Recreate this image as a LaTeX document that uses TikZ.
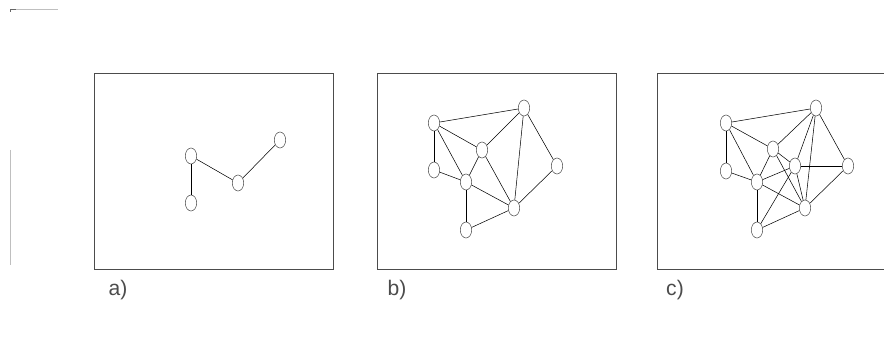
\documentclass[tikz,border=0pt]{standalone}
\usepackage{fontspec}
\setmainfont{Liberation Sans}
\usepackage{tikz}
\usetikzlibrary{shapes.geometric}
\tikzset{
  panel/.style={draw=black!70,line width=0.7pt},
  vx/.style={ellipse,draw=black!70,line width=0.45pt,fill=white,
    minimum width=0.34cm,minimum height=0.48cm,inner sep=0pt},
  lnk/.style={black,line width=0.45pt},
  plbl/.style={font=\fontsize{18}{20}\selectfont,text=black!70,inner sep=0pt},
  stray/.style={black!25,line width=0.5pt},
}
\begin{document}
\begin{tikzpicture}[x=0.03cm,y=-0.03cm]
  \useasboundingbox (0,0) rectangle (884,344);
  \clip (0,0) rectangle (884,344);
  % stray marks at the left edge
  \draw[stray] (10,12) -- (10,9) -- (58,9);
  \draw[black!60,line width=0.6pt] (10,12) -- (10,9) -- (16,9);
  \draw[stray] (10,150) -- (10,265);
  % the three frames
  \draw[panel] (94,73) rectangle (333,269);
  \draw[panel] (377,73) rectangle (616,269);
  \draw[panel] (657,73) rectangle (900,269);
  \node[plbl] (la) at (118,290) {a)};
  \node[plbl] (lb) at (397,290) {b)};
  \node[plbl] (lc) at (675,290) {c)};
  % a)
  \node[vx] (a1) at (191,156) {};
  \node[vx] (a2) at (191,203) {};
  \node[vx] (a3) at (238,183) {};
  \node[vx] (a4) at (280,140) {};
  \path (a1) edge[lnk] (a2) (a1) edge[lnk] (a3) (a3) edge[lnk] (a4);
  % b)
  \node[vx] (b1) at (434,123) {};
  \node[vx] (b2) at (524,108) {};
  \node[vx] (b3) at (482,150) {};
  \node[vx] (b4) at (434,170) {};
  \node[vx] (b5) at (466,182) {};
  \node[vx] (b6) at (557,166) {};
  \node[vx] (b7) at (514,208) {};
  \node[vx] (b8) at (466,230) {};
  \path (b1) edge[lnk] (b2) (b1) edge[lnk] (b4) (b1) edge[lnk] (b3)
        (b1) edge[lnk] (b5) (b2) edge[lnk] (b3) (b2) edge[lnk] (b7)
        (b2) edge[lnk] (b6) (b3) edge[lnk] (b5) (b3) edge[lnk] (b7)
        (b4) edge[lnk] (b5) (b5) edge[lnk] (b7) (b5) edge[lnk] (b8)
        (b8) edge[lnk] (b7) (b6) edge[lnk] (b7);
  % c)
  \node[vx] (c1) at (726,123) {};
  \node[vx] (c2) at (816,108) {};
  \node[vx] (c3) at (773,149) {};
  \node[vx] (c4) at (726,171) {};
  \node[vx] (c5) at (757,182) {};
  \node[vx] (c6) at (848,166) {};
  \node[vx] (c7) at (805,208) {};
  \node[vx] (c8) at (757,230) {};
  \node[vx] (c9) at (795,166) {};
  \path (c1) edge[lnk] (c2) (c1) edge[lnk] (c4) (c1) edge[lnk] (c3)
        (c1) edge[lnk] (c5) (c2) edge[lnk] (c3) (c2) edge[lnk] (c9)
        (c2) edge[lnk] (c7) (c2) edge[lnk] (c6) (c3) edge[lnk] (c5)
        (c3) edge[lnk] (c9) (c3) edge[lnk] (c7) (c4) edge[lnk] (c5)
        (c5) edge[lnk] (c9) (c5) edge[lnk] (c7) (c5) edge[lnk] (c8)
        (c8) edge[lnk] (c7) (c8) edge[lnk] (c9) (c9) edge[lnk] (c6)
        (c9) edge[lnk] (c7) (c6) edge[lnk] (c7);
\end{tikzpicture}
\end{document}
